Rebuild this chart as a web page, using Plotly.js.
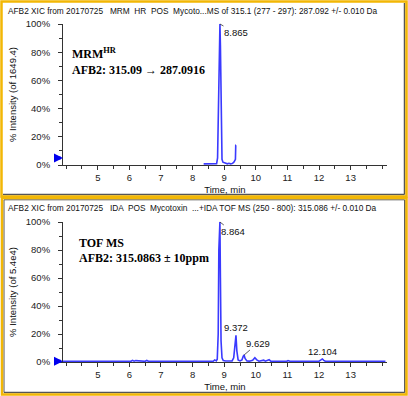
<!DOCTYPE html>
<html>
<head>
<meta charset="utf-8">
<script src="https://cdn.plot.ly/plotly-3.0.1.min.js"></script>
<style>html,body{margin:0;padding:0;background:#fff;}#chart{width:408px;height:396px;}</style>
</head>
<body>
<div id="chart"></div>
<script>
// ---- Data ----
const mrmTime = [8.35, 8.5, 8.65, 8.76, 8.79, 8.81, 8.83, 8.845, 8.865, 8.88, 8.9, 8.93, 8.96, 9.0, 9.05, 9.1, 9.15, 9.2, 9.25, 9.3, 9.33, 9.355, 9.365, 9.375];
const mrmIntensity = [0.8, 0.8, 0.8, 0.9, 5, 40, 42, 92, 100, 85, 40, 4, 2, 1.5, 1, 0.8, 1.2, 0.8, 1, 1.8, 3, 4, 14, 14];

const tofTime = [3.9, 4.3, 4.6, 4.65, 4.7, 5.1, 5.2, 5.25, 5.3, 5.8, 6.05, 6.1, 6.15, 6.2, 6.5, 6.55, 6.6, 7.0, 7.5, 8.0, 8.5, 8.6, 8.65, 8.7, 8.75, 8.78, 8.81, 8.83, 8.85, 8.864, 8.88, 8.9, 8.93, 8.97, 9.05, 9.15, 9.25, 9.3, 9.34, 9.372, 9.4, 9.44, 9.5, 9.56, 9.6, 9.629, 9.66, 9.72, 9.8, 9.9, 9.97, 10.03, 10.1, 10.2, 10.25, 10.3, 10.37, 10.42, 10.47, 10.6, 10.8, 10.98, 11.02, 11.08, 11.3, 11.45, 11.5, 11.55, 11.8, 12.0, 12.06, 12.104, 12.15, 12.2, 12.5, 12.75, 12.8, 12.85, 13.1, 13.15, 13.2, 13.5, 13.75, 13.8, 13.85, 14.1];
const tofIntensity = [0.5, 0.5, 0.5, 1, 0.5, 0.5, 1, 0.6, 0.5, 0.5, 0.5, 1.2, 0.6, 1, 0.5, 1.2, 0.5, 0.5, 0.5, 0.5, 0.5, 1, 0.5, 1.5, 0.8, 2, 20, 80, 95, 100, 60, 15, 3, 1, 0.7, 1, 0.8, 3, 12, 19, 8, 1.5, 0.8, 1.5, 4, 5, 2.5, 0.8, 0.6, 1.2, 3, 1.5, 0.6, 0.8, 1.3, 0.6, 1, 1.6, 0.6, 0.5, 0.5, 0.5, 1, 0.5, 0.5, 0.5, 0.9, 0.5, 0.5, 0.6, 1.5, 2.2, 1.2, 0.5, 0.5, 0.5, 1, 0.5, 0.5, 0.8, 0.5, 0.5, 0.5, 1, 0.5, 0.5];

const timeTicks = [5, 6, 7, 8, 9, 10, 11, 12, 13];
const timeTickLabels = ["5", "6", "7", "8", "9", "10", "11", "12", "13"];
const pctTicks = [0, 20, 40, 60, 80, 100];
const pctTickLabels = ["0%", "20%", "40%", "60%", "80%", "100%"];

const mrmPeakLabels = [{t: 8.865, i: 100, text: "8.865", ax: 16, ay: 9}];
const tofPeakLabels = [
  {t: 8.864, i: 100, text: "8.864", ax: 13, ay: 10, arrow: true},
  {t: 9.372, i: 19, text: "9.372", arrow: false},
  {t: 9.629, i: 5, text: "9.629", ax: 14, ay: -12, arrow: true},
  {t: 12.104, i: 2.2, text: "12.104", arrow: false}
];
const mrmCursor = {t: 3.9, i: 5};
const tofCursor = {t: 3.9, i: 0.5};

const topTitle = "AFB2 XIC from 20170725 &nbsp; MRM &nbsp;HR &nbsp;POS &nbsp;Mycoto...MS of 315.1 (277 - 297): 287.092 +/- 0.010 Da";
const botTitle = "AFB2 XIC from 20170725 &nbsp; IDA &nbsp;POS &nbsp;Mycotoxin &nbsp;...+IDA TOF MS (250 - 800): 315.086 +/- 0.010 Da";

// ---- Layout helpers (pixel -> paper) ----
const W = 408, H = 396;
const px = x => x / W;
const py = y => 1 - y / H;

const lineColor = "#3a3aff";
const tickFont = {family: "Liberation Sans, Arial, sans-serif", size: 9.5, color: "#222"};
const smallFont = {family: "Liberation Sans, Arial, sans-serif", size: 9.5, color: "#111"};
const boldFont = {family: "Liberation Serif, Times New Roman, serif", size: 12, color: "#000", weight: "bold"};

function xAxis(anchor) {
  return {
    domain: [px(63), px(387)], anchor: anchor, range: [3.9, 14.15],
    tickmode: "array", tickvals: timeTicks, ticktext: timeTickLabels,
    ticks: "outside", ticklen: 4, tickcolor: "#333", tickwidth: 1,
    minor: {dtick: 0.5, tick0: 4, ticks: "outside", ticklen: 3, tickcolor: "#333"},
    showline: true, linecolor: "#333", linewidth: 1, showgrid: false, zeroline: false,
    tickfont: tickFont, fixedrange: true,
    title: {text: "Time, min", font: smallFont, standoff: 3}
  };
}
function yAxis(domain, anchor, titleText) {
  return {
    domain: domain, anchor: anchor, range: [0, 100],
    tickmode: "array", tickvals: pctTicks, ticktext: pctTickLabels,
    ticks: "outside", ticklen: 4, tickcolor: "#333", tickwidth: 1,
    minor: {dtick: 10, ticks: "outside", ticklen: 3, tickcolor: "#333"},
    showline: true, linecolor: "#333", linewidth: 1, showgrid: false, zeroline: false,
    tickfont: tickFont, ticklabelstandoff: 6, fixedrange: true,
    title: {text: titleText, font: smallFont, standoff: 7}
  };
}

const traces = [
  {x: mrmTime, y: mrmIntensity, xaxis: "x", yaxis: "y", type: "scatter", mode: "lines",
   line: {color: lineColor, width: 1.6}, hoverinfo: "x+y", name: "MRM HR"},
  {x: tofTime, y: tofIntensity, xaxis: "x2", yaxis: "y2", type: "scatter", mode: "lines",
   line: {color: lineColor, width: 1.6}, hoverinfo: "x+y", name: "TOF MS"}
];

const annotations = [];
annotations.push({xref: "paper", yref: "paper", x: px(6), y: py(11), xanchor: "left", yanchor: "middle",
  text: topTitle, showarrow: false, font: {family: "Liberation Sans, Arial, sans-serif", size: 8.3, color: "#111"}});
annotations.push({xref: "paper", yref: "paper", x: px(6), y: py(208), xanchor: "left", yanchor: "middle",
  text: botTitle, showarrow: false, font: {family: "Liberation Sans, Arial, sans-serif", size: 8.3, color: "#111"}});
annotations.push({xref: "paper", yref: "paper", x: px(70), y: py(54), xanchor: "left", yanchor: "middle",
  text: "MRM<sup>HR</sup>", showarrow: false, font: boldFont});
annotations.push({xref: "paper", yref: "paper", x: px(70), y: py(70), xanchor: "left", yanchor: "middle",
  text: "AFB2: 315.09 → 287.0916", showarrow: false, font: boldFont});
annotations.push({xref: "paper", yref: "paper", x: px(77), y: py(243), xanchor: "left", yanchor: "middle",
  text: "TOF MS", showarrow: false, font: boldFont});
annotations.push({xref: "paper", yref: "paper", x: px(77), y: py(258), xanchor: "left", yanchor: "middle",
  text: "AFB2: 315.0863 ± 10ppm", showarrow: false, font: boldFont});
mrmPeakLabels.forEach(p => annotations.push({xref: "x", yref: "y", x: p.t, y: p.i, text: p.text,
  showarrow: true, arrowhead: 0, arrowwidth: 0.8, arrowcolor: "#333", ax: p.ax, ay: p.ay, font: smallFont}));
tofPeakLabels.forEach(p => {
  if (p.arrow) {
    annotations.push({xref: "x2", yref: "y2", x: p.t, y: p.i, text: p.text,
      showarrow: true, arrowhead: 0, arrowwidth: 0.8, arrowcolor: "#333", ax: p.ax, ay: p.ay, font: smallFont});
  } else {
    annotations.push({xref: "x2", yref: "y2", x: p.t, y: p.i, text: p.text,
      showarrow: false, yanchor: "bottom", font: smallFont});
  }
});
// blue cursor arrows pointing at the y axes
[[mrmCursor, "x", "y"], [tofCursor, "x2", "y2"]].forEach(([c, xr, yr]) => annotations.push({
  xref: xr, yref: yr, x: c.t, y: c.i, text: "", showarrow: true, arrowhead: 2,
  arrowsize: 0.6, arrowwidth: 3, arrowcolor: "#0000ee", ax: -8, ay: 0}));

const orange = "#F2B705", gray = "#555";
const shapes = [
  // top panel frame
  {type: "line", xref: "paper", yref: "paper", x0: px(404.5), x1: px(404.5), y0: py(3), y1: py(194.5), line: {color: gray, width: 1.5}},
  {type: "line", xref: "paper", yref: "paper", x0: px(3), x1: px(404.5), y0: py(194.5), y1: py(194.5), line: {color: gray, width: 1.5}},
  {type: "rect", xref: "paper", yref: "paper", x0: px(1.5), x1: px(406.5), y0: py(1.5), y1: py(196.5), line: {color: orange, width: 2.5}},
  // bottom panel frame
  {type: "line", xref: "paper", yref: "paper", x0: px(404.8), x1: px(404.8), y0: py(200), y1: py(392.5), line: {color: gray, width: 1.5}},
  {type: "line", xref: "paper", yref: "paper", x0: px(4), x1: px(404.8), y0: py(392.5), y1: py(392.5), line: {color: gray, width: 1.5}},
  {type: "line", xref: "paper", yref: "paper", x0: px(4), x1: px(404.8), y0: py(199.8), y1: py(199.8), line: {color: gray, width: 1}},
  {type: "line", xref: "paper", yref: "paper", x0: px(4), x1: px(4), y0: py(199.8), y1: py(392.5), line: {color: gray, width: 1}},
  {type: "rect", xref: "paper", yref: "paper", x0: px(2), x1: px(406.5), y0: py(198), y1: py(394.5), line: {color: orange, width: 2.5}}
];

const layout = {
  width: W, height: H,
  margin: {l: 0, r: 0, t: 0, b: 0},
  paper_bgcolor: "#fff", plot_bgcolor: "#fff",
  showlegend: false,
  xaxis: xAxis("y"),
  yaxis: yAxis([py(165), py(24)], "x", "% Intensity (of 1649.4)"),
  xaxis2: xAxis("y2"),
  yaxis2: yAxis([py(362), py(222)], "x2", "% Intensity (of 5.4e4)"),
  annotations: annotations,
  shapes: shapes
};

Plotly.newPlot("chart", traces, layout, {displayModeBar: false});
</script>
</body>
</html>
